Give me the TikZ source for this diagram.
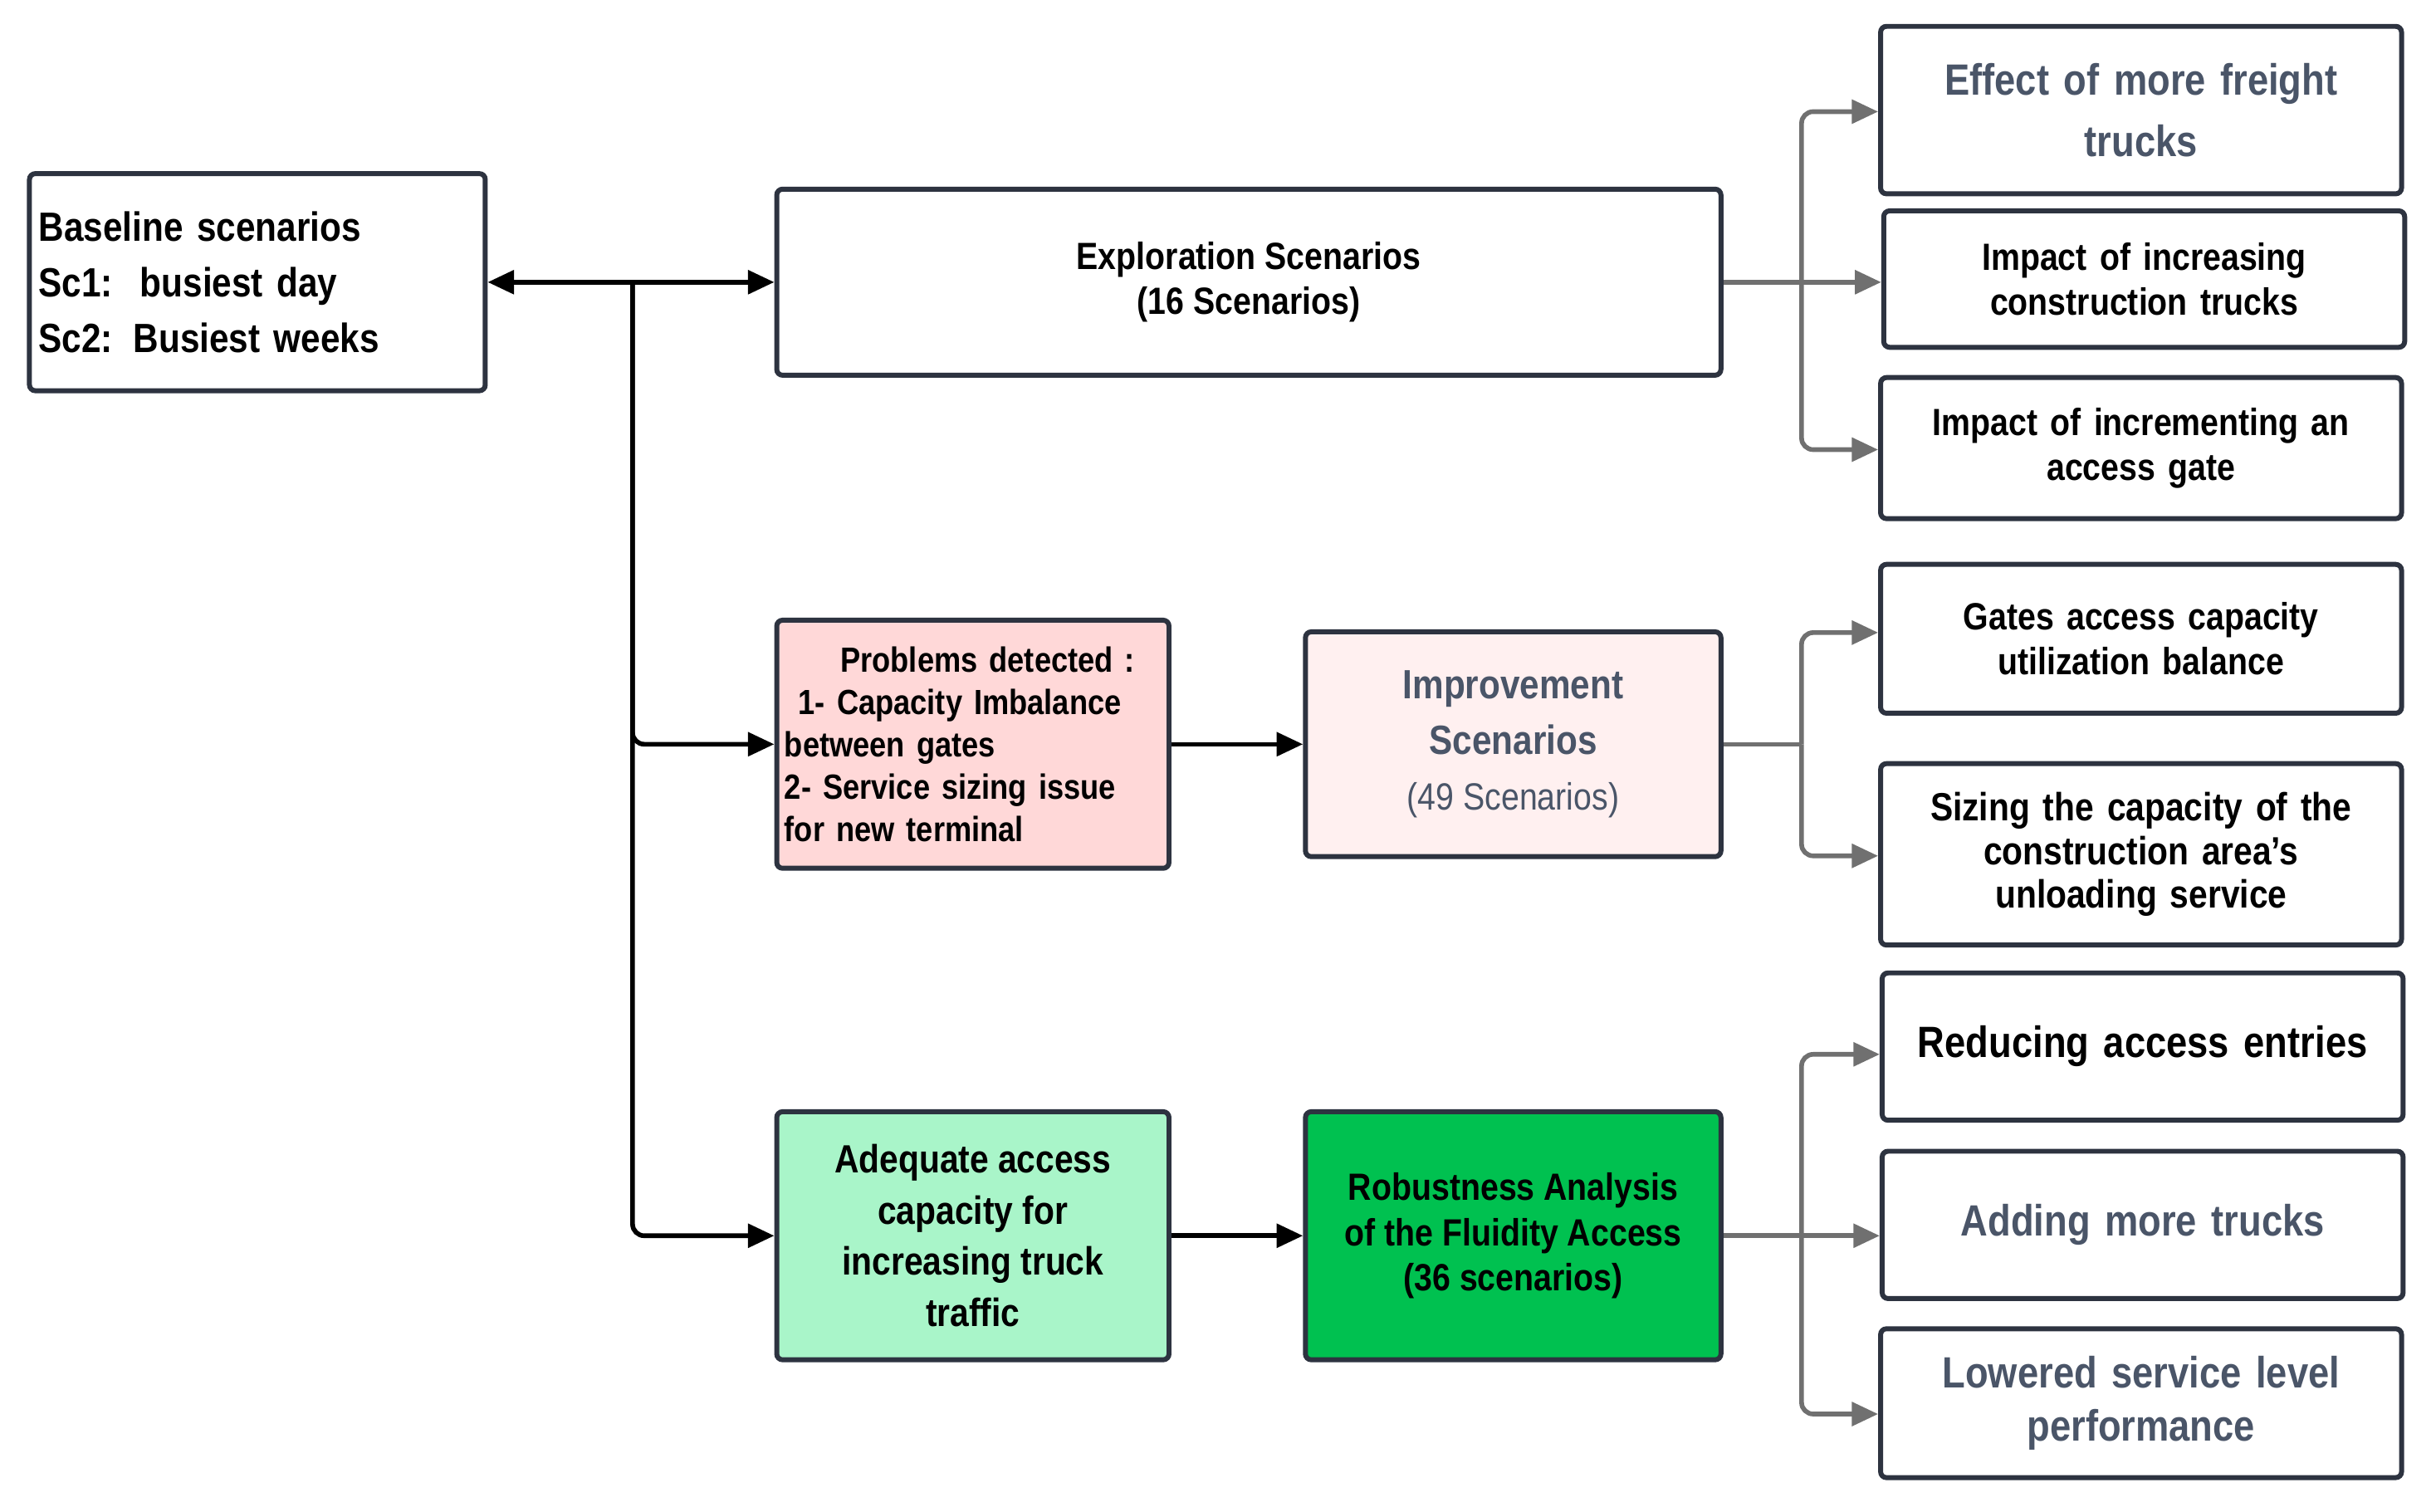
\documentclass[tikz,border=0pt]{standalone}
\usepackage{fontspec}
\setmainfont{Liberation Sans}[FakeStretch=0.86]
\usetikzlibrary{arrows.meta}
\definecolor{bd}{HTML}{2D3340}
\definecolor{gt}{HTML}{4A5568}
\definecolor{pk}{HTML}{FFD8D8}
\definecolor{lp}{HTML}{FFF0F0}
\definecolor{lg}{HTML}{A9F5C9}
\definecolor{dg}{HTML}{00C150}
\definecolor{gl}{HTML}{707070}
\begin{document}
\begin{tikzpicture}[x=0.01867cm,y=-0.01867cm,
 box/.style={draw=bd,line width=1.7pt,rounded corners=2pt,inner sep=0pt,font=\bfseries\fontsize{13}{15.5}\selectfont,align=center},
 blk/.style={line width=1.6pt,-{Triangle[length=9pt,width=8pt]}},
 gry/.style={draw=gl,line width=1.6pt,-{Triangle[length=9pt,width=8pt]}}]
\useasboundingbox (0,0) rectangle (1568,975);
\newcommand\bx[6]{\node[box,#6,minimum width=#3-#1,minimum height=#4-#2,text width=#3-#1-12] (#5) at ({(#1+#3)/2},{(#2+#4)/2}) {};}
\node[box,minimum width=294*0.01867cm,minimum height=140*0.01867cm,font=\bfseries\fontsize{14}{19}\selectfont,align=left,text width=282*0.01867cm] (base) at (166,182) {Baseline scenarios\\Sc1:\ \ busiest day\\Sc2: Busiest weeks};
\node[box,minimum width=609*0.01867cm,minimum height=120*0.01867cm] (expl) at (805.5,182) {Exploration Scenarios\\(16 Scenarios)};
\node[box,fill=pk,minimum width=253*0.01867cm,minimum height=160*0.01867cm,font=\bfseries\fontsize{12}{14.5}\selectfont,align=left,text width=243*0.01867cm] (prob) at (627.5,480) {\hspace*{1.6em}Problems detected :\\\hspace*{0.4em}1- Capacity Imbalance\\between gates\\2- Service sizing issue\\for new terminal};
\node[box,fill=lp,text=gt,minimum width=268*0.01867cm,minimum height=145*0.01867cm,font=\bfseries\fontsize{14}{19}\selectfont] (impr) at (976,480) {Improvement\\Scenarios\\{\mdseries\fontsize{13}{17}\selectfont(49 Scenarios)}};
\node[box,fill=lg,minimum width=253*0.01867cm,minimum height=160*0.01867cm,font=\bfseries\fontsize{13.5}{17.5}\selectfont] (adeq) at (627.5,797) {Adequate access\\capacity for\\increasing truck\\traffic};
\node[box,fill=dg,minimum width=268*0.01867cm,minimum height=160*0.01867cm] (rob) at (976,797) {Robustness Analysis\\of the Fluidity Access\\(36 scenarios)};
\tikzset{rb/.style={box,minimum width=336*0.01867cm,text width=320*0.01867cm}}
\node[rb,minimum height=108*0.01867cm,text=gt,font=\bfseries\fontsize{15}{21}\selectfont] (r1) at (1381,71) {Effect of more freight\\trucks};
\node[rb,minimum height=88*0.01867cm] (r2) at (1383,180) {Impact of increasing\\construction trucks};
\node[rb,minimum height=91*0.01867cm] (r3) at (1381,289) {Impact of incrementing an\\access gate};
\node[rb,minimum height=96*0.01867cm] (r4) at (1381,412) {Gates access capacity\\utilization balance};
\node[rb,minimum height=117*0.01867cm,font=\bfseries\fontsize{13.5}{15}\selectfont] (r5) at (1381,551) {Sizing the capacity of the\\construction area's\\unloading service};
\node[rb,minimum height=95*0.01867cm,font=\bfseries\fontsize{15}{18}\selectfont] (r6) at (1382,675) {Reducing access entries};
\node[rb,minimum height=95*0.01867cm,text=gt,font=\bfseries\fontsize{15}{18}\selectfont] (r7) at (1382,790) {Adding more trucks};
\node[rb,minimum height=96*0.01867cm,text=gt,font=\bfseries\fontsize{15}{18}\selectfont] (r8) at (1381,905) {Lowered service level\\performance};
% black connectors
\coordinate (j) at (408,182);
\draw[blk] (j) -- (base.east);
\draw[blk] (j) -- (expl.west);
\draw[blk,rounded corners=4pt] (j) |- (prob.west);
\draw[blk,rounded corners=4pt] (j) |- (adeq.west);
\draw[blk] (prob) -- (impr);
\draw[blk] (adeq) -- (rob);
% gray
\coordinate (g1) at (1162,182);
\draw[gry] (expl.east) -- (r2.west|-g1);
\draw[gry,rounded corners=4pt] (g1) |- (r1.west|-0,72);
\draw[gry,rounded corners=4pt] (g1) |- (r3.west|-0,290);
\coordinate (g2) at (1162,480);
\draw[gry,-] (impr.east) -- (g2);
\draw[gry,rounded corners=4pt] (g2) |- (r4.west|-0,408);
\draw[gry,rounded corners=4pt] (g2) |- (r5.west|-0,552);
\coordinate (g3) at (1162,797);
\draw[gry] (rob.east) -- (r7.west|-g3);
\draw[gry,rounded corners=4pt] (g3) |- (r6.west|-0,680);
\draw[gry,rounded corners=4pt] (g3) |- (r8.west|-0,912);
\end{tikzpicture}
\end{document}
